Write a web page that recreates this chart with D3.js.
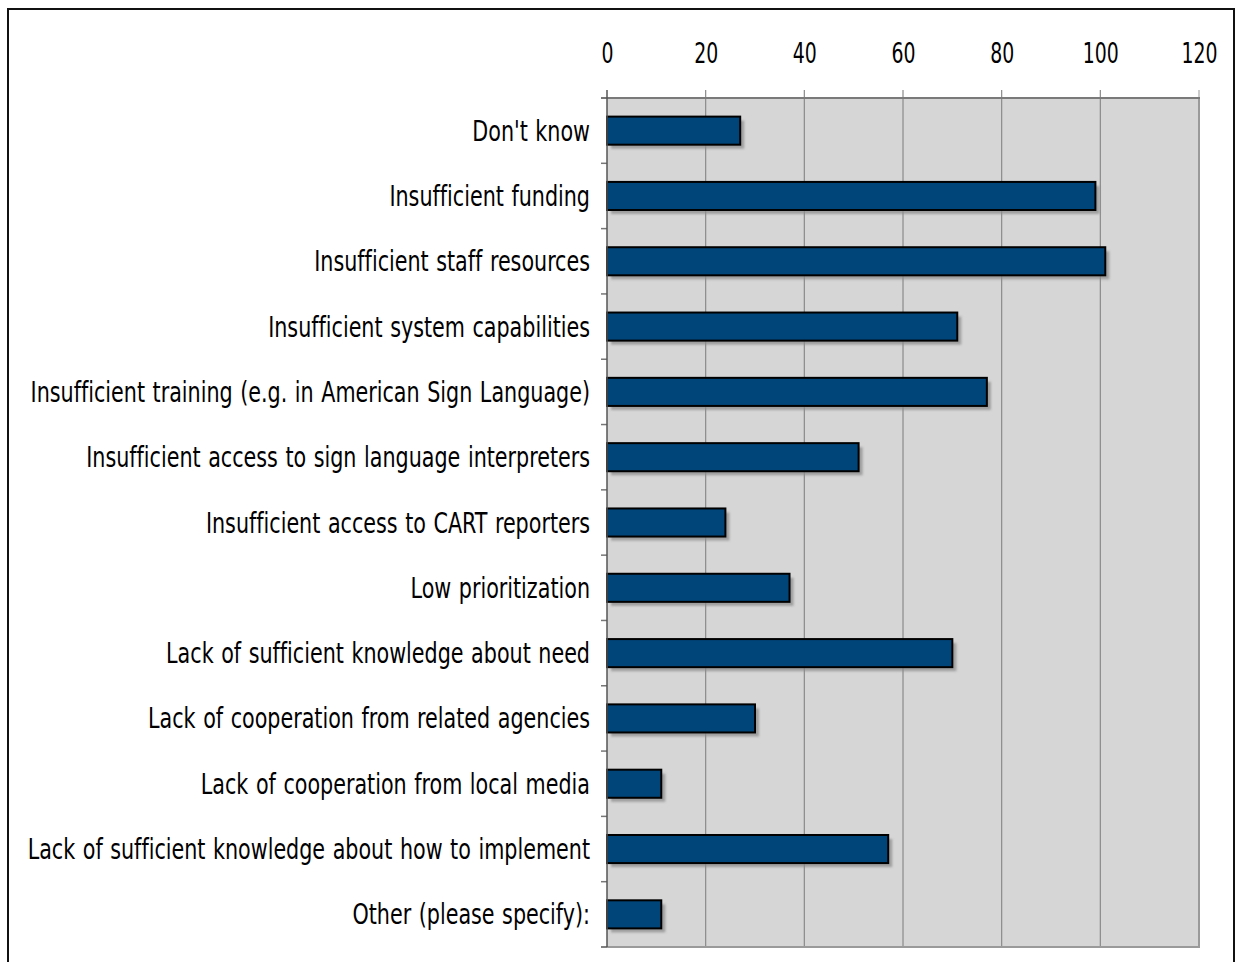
<!DOCTYPE html>
<html><head><meta charset="utf-8">
<script src="https://cdn.jsdelivr.net/npm/d3@7"></script>
<style>
html,body{margin:0;padding:0;background:#fff;}
svg{display:block;}
text{font-family:"DejaVu Sans Condensed","DejaVu Sans",sans-serif;fill:#000;font-variant-ligatures:none;}
</style></head>
<body>
<svg id="chart" width="1236" height="962"></svg>
<script>
const categories = [
  "Don't know",
  "Insufficient funding",
  "Insufficient staff resources",
  "Insufficient system capabilities",
  "Insufficient training (e.g. in American Sign Language)",
  "Insufficient access to sign language interpreters",
  "Insufficient access to CART reporters",
  "Low prioritization",
  "Lack of sufficient knowledge about need",
  "Lack of cooperation from related agencies",
  "Lack of cooperation from local media",
  "Lack of sufficient knowledge about how to implement",
  "Other (please specify):"
];
const values = [27, 99, 101, 71, 77, 51, 24, 37, 70, 30, 11, 57, 11];
const tickValues = [0, 20, 40, 60, 80, 100, 120];

const svg = d3.select("#chart");
const L = 607, R = 1199, T = 98, B = 947;

const defs = svg.append("defs");
defs.append("filter").attr("id","shadow").attr("x","-10%").attr("y","-30%").attr("width","120%").attr("height","160%")
  .append("feGaussianBlur").attr("stdDeviation", 1.2);

// outer frame
svg.append("rect").attr("x", 8).attr("y", 9).attr("width", 1226).attr("height", 980)
  .attr("fill", "none").attr("stroke", "#111").attr("stroke-width", 2);

const x = d3.scaleLinear().domain([0, 120]).range([L, R]);
const y = d3.scaleBand().domain(categories).range([T, B]).paddingInner(0.57).paddingOuter(0.285);
const yb = d3.scaleBand().domain(categories).range([T, B]);

// plot background
svg.append("rect").attr("x", L).attr("y", T).attr("width", R - L).attr("height", B - T).attr("fill", "#d6d6d6");

// vertical gridlines
svg.append("g").selectAll("line").data(tickValues.slice(1, -1)).join("line")
  .attr("x1", d => x(d)).attr("x2", d => x(d)).attr("y1", T - 8).attr("y2", B)
  .attr("stroke", "#8a8a8a").attr("stroke-width", 1.2);
svg.append("line").attr("x1", x(120)).attr("x2", x(120)).attr("y1", T - 8).attr("y2", T).attr("stroke", "#999").attr("stroke-width", 1);

// top axis labels
const xAxis = d3.axisTop(x).tickValues(tickValues).tickSize(0).tickPadding(0);
const gx = svg.append("g").attr("transform", `translate(0,${T})`).call(xAxis);
gx.select(".domain").remove();
gx.selectAll("text").attr("font-size", 21).attr("font-family", null)
  .attr("y", 0).attr("dy", null).attr("x", null)
  .attr("text-anchor", "middle")
  .attr("transform", `translate(0,-35) scale(1,1.33)`);

// plot borders
svg.append("line").attr("x1", R).attr("x2", R).attr("y1", T).attr("y2", B).attr("stroke", "#9a9a9a").attr("stroke-width", 2);
svg.append("line").attr("x1", L - 6).attr("x2", R + 1).attr("y1", B).attr("y2", B).attr("stroke", "#9a9a9a").attr("stroke-width", 2);
svg.append("line").attr("x1", L - 6).attr("x2", R + 1).attr("y1", T).attr("y2", T).attr("stroke", "#7a7a7a").attr("stroke-width", 2);

// category ticks
const bounds = categories.map(c => yb(c)).concat([B]);
svg.append("g").selectAll("line").data(bounds).join("line")
  .attr("x1", L - 6).attr("x2", L).attr("y1", d => d).attr("y2", d => d)
  .attr("stroke", "#777").attr("stroke-width", 1.5);

// shadows
svg.append("g").attr("filter", "url(#shadow)").selectAll("rect").data(values).join("rect")
  .attr("x", x(0) + 4).attr("y", (d, i) => y(categories[i]) + 4)
  .attr("width", d => x(d) - x(0)).attr("height", y.bandwidth())
  .attr("fill", "#8c8c8c").attr("opacity", 0.75);

// bars
svg.append("g").selectAll("rect").data(values).join("rect")
  .attr("x", x(0)).attr("y", (d, i) => y(categories[i]))
  .attr("width", d => x(d) - x(0)).attr("height", y.bandwidth())
  .attr("fill", "#00457a").attr("stroke", "#000").attr("stroke-width", 2);

// left axis line
svg.append("line").attr("x1", L).attr("x2", L).attr("y1", T - 8).attr("y2", B).attr("stroke", "#555").attr("stroke-width", 1.5);

// category labels
svg.append("g").selectAll("text").data(categories).join("text")
  .attr("text-anchor", "end").attr("font-size", 23).attr("word-spacing", 1)
  .attr("transform", d => `translate(590,${yb(d) + yb.bandwidth() / 2 + 10}) scale(1,1.213)`)
  .text(d => d);
</script>
</body></html>
